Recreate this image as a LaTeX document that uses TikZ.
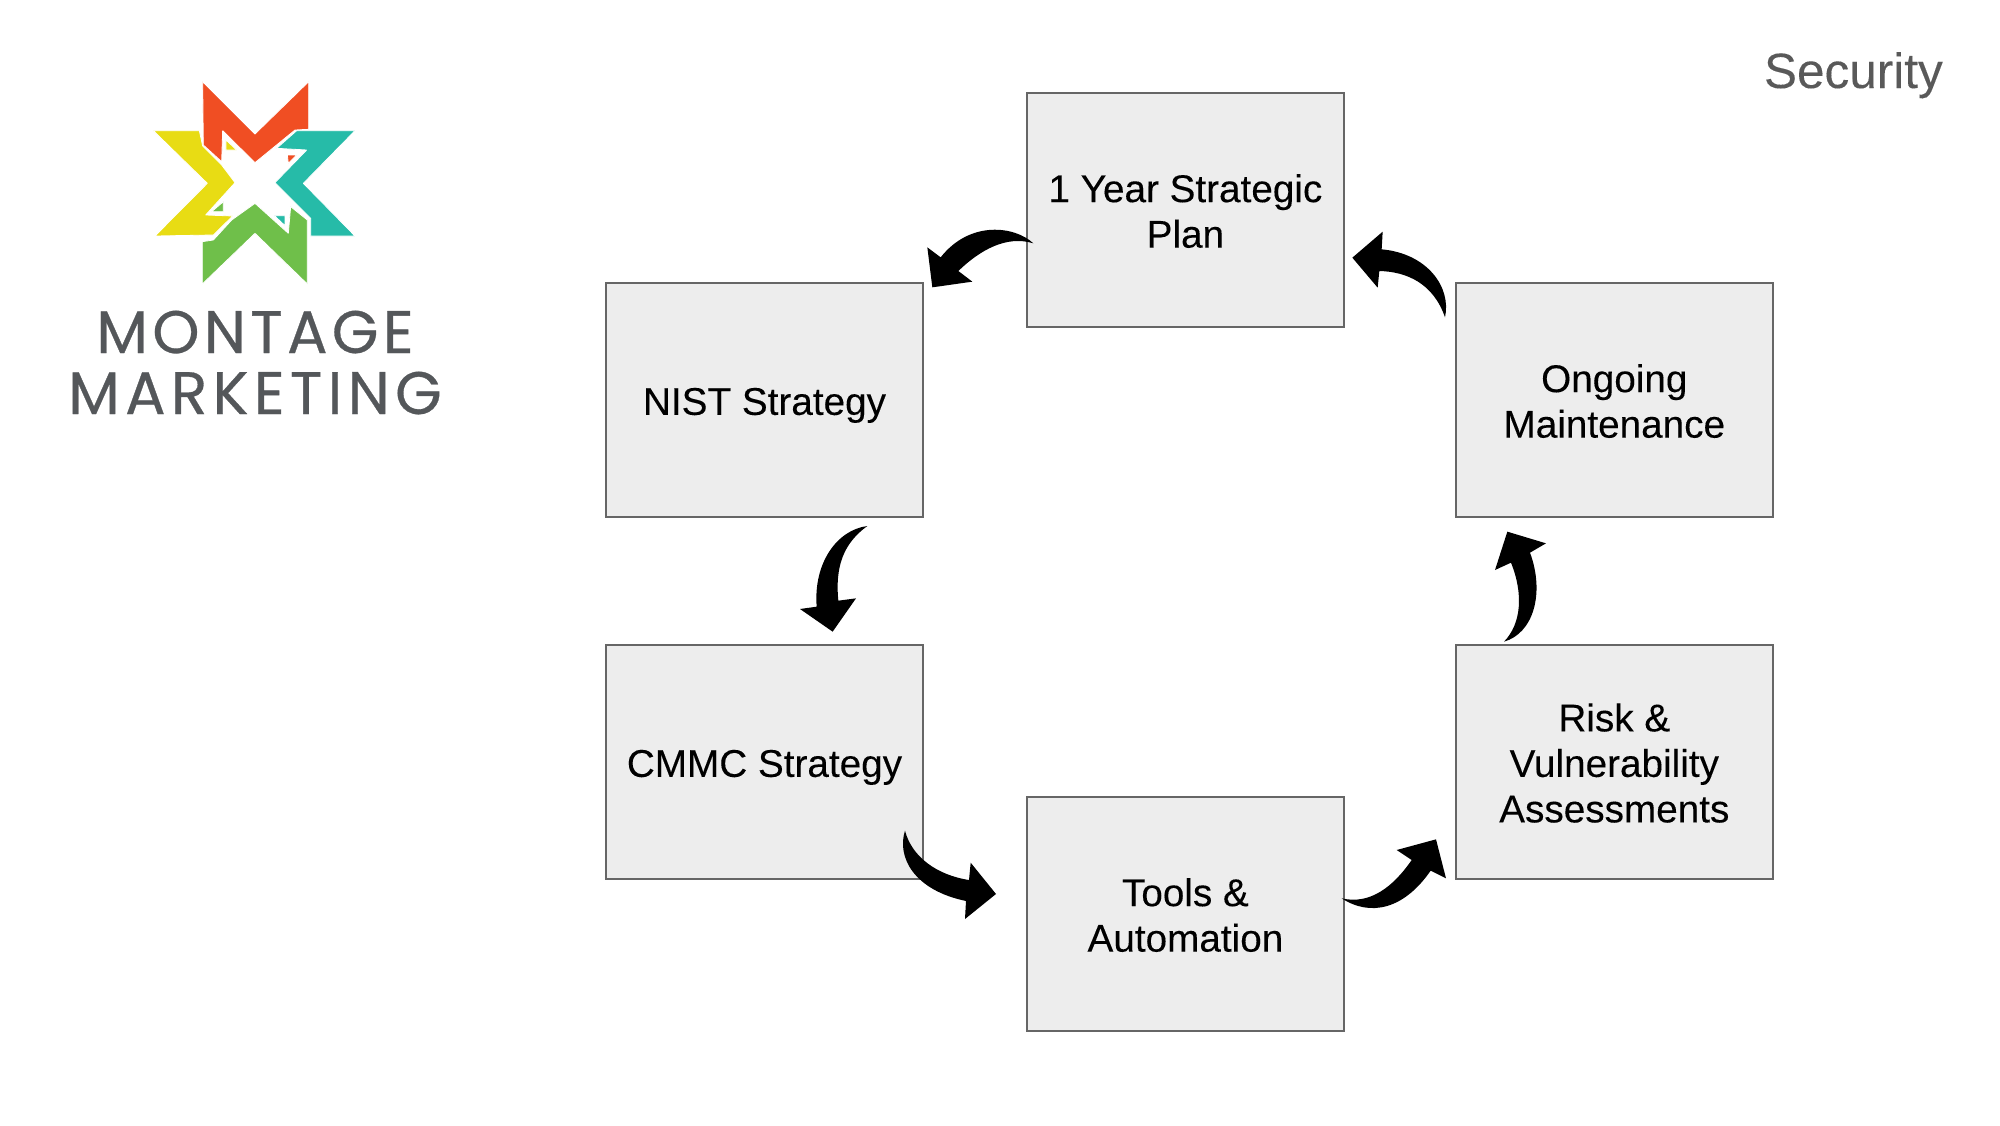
\documentclass[tikz,border=0pt]{standalone}
\usepackage{fontspec}
\setmainfont{Liberation Sans}
\newfontfamily\logofont{Poppins}
\definecolor{boxfill}{HTML}{EDEDED}
\definecolor{boxline}{HTML}{666666}
\definecolor{titlegray}{HTML}{595959}
\definecolor{logogray}{HTML}{54575A}
\definecolor{logored}{HTML}{F04E23}
\definecolor{logoyellow}{HTML}{E8DC14}
\definecolor{logoteal}{HTML}{26BBA8}
\definecolor{logogreen}{HTML}{6FBF4A}
\newcommand\boxlines[1]{\raisebox{-12pt}[0pt][0pt]{\begin{tabular}[c]{@{}c@{}}#1\end{tabular}}}
\tikzset{
  stepbox/.style={draw=boxline,fill=boxfill,line width=2pt,rectangle,
    minimum width=317pt,minimum height=233.5pt,inner sep=0pt,
    font=\fontsize{38.7}{45.5}\selectfont\addfontfeatures{FakeBold=0.15},text=black},
  blockarrow/.style={fill=black,draw=none},
  logopart/.style={draw=white,line width=.8pt,line join=bevel},
  logotext/.style={anchor=base,inner sep=0pt,text=logogray,font={\logofont\fontsize{60}{60}\selectfont}},
  zoomA/.style={x=.33333pt,y=-.33333pt}
}
\begin{document}
\begin{tikzpicture}[x=1pt,y=-1pt]
\useasboundingbox (0,0) rectangle (2000,1125);
% logo
\begin{scope}[shift={(40,60)},zoomA]
\path[logopart,fill=logoyellow] (340,212) -- (478,212) -- (488,258) -- (545,315) -- (585,368) -- (497,465) -- (578,468) -- (520,525) -- (345,528) -- (502,370) -- cycle;
\path[logopart,fill=logoyellow] (558,240) -- (590,270) -- (558,270) -- cycle;
\path[logopart,fill=logoteal] (945,212) -- (770,212) -- (710,265) -- (800,270) -- (705,368) -- (812,475) -- (812,528) -- (945,528) -- (790,370) -- cycle;
\path[logopart,fill=logoteal] (703,467) -- (735,467) -- (735,497) -- cycle;
\path[logopart,fill=logored] (488,65) -- (645,222) -- (806,65) -- (806,208) -- (765,210) -- (645,308) -- (548,212) -- (545,305) -- (490,255) -- cycle;
\path[logopart,fill=logored] (742,285) -- (770,285) -- (745,310) -- cycle;
\path[logopart,fill=logogreen] (487,672) -- (645,520) -- (802,672) -- (802,480) -- (752,440) -- (745,520) -- (645,430) -- (575,480) -- (520,540) -- (487,545) -- cycle;
\path[logopart,fill=logogreen] (515,455) -- (550,425) -- (550,455) -- cycle;
\end{scope}
\node[logotext] (montage) at (255,353) {\addfontfeatures{LetterSpace=7.2,FakeBold=0.5}MONTAGE};
\node[logotext] (marketing) at (255,414) {\addfontfeatures{LetterSpace=8.8,FakeBold=0.5}MARKETING};
% title
\node[anchor=base east,inner sep=0pt,text=titlegray,font=\fontsize{49.5}{50}\selectfont\addfontfeatures{FakeBold=0.15}] (title) at (1943,88) {Security};
% boxes
\node[stepbox] (plan) at (1185.4,210) {\boxlines{1 Year Strategic\\Plan}};
\node[stepbox] (nist) at (764.5,400) {\boxlines{NIST Strategy}};
\node[stepbox] (cmmc) at (764.5,762) {\boxlines{CMMC Strategy}};
\node[stepbox] (tools) at (1185.4,914) {\boxlines{Tools \&\\Automation}};
\node[stepbox] (risk) at (1614.3,762) {\boxlines{Risk \&\\Vulnerability\\Assessments}};
\node[stepbox] (ongoing) at (1614.3,400) {\boxlines{Ongoing\\Maintenance}};
% block arrows
\begin{scope}[shift={(900,200)},zoomA]
\coordinate (planTail) at (400,130); \coordinate (nistTip) at (97,262);
\fill[blockarrow] (planTail) .. controls (345,78) and (210,60) .. (122,172) -- (82,142) -- (nistTip) -- (217,245) -- (175,213) .. controls (240,150) and (320,105) .. (planTail) -- cycle;
\end{scope}
\begin{scope}[shift={(780,510)},zoomA]
\coordinate (nistTail) at (262,48); \coordinate (cmmcTip) at (158,365);
\fill[blockarrow] (nistTail) .. controls (170,60) and (100,160) .. (110,290) -- (60,297) -- (cmmcTip) -- (228,265) -- (175,272) .. controls (165,170) and (190,100) .. (nistTail) -- cycle;
\end{scope}
\begin{scope}[shift={(880,800)},zoomA]
\coordinate (cmmcTail) at (75,92); \coordinate (toolsTip) at (348,282);
\fill[blockarrow] (cmmcTail) .. controls (50,170) and (100,270) .. (258,303) -- (255,357) -- (toolsTip) -- (272,188) -- (267,240) .. controls (170,225) and (95,170) .. (cmmcTail) -- cycle;
\end{scope}
\begin{scope}[shift={(1340,830)},zoomA]
\coordinate (toolsTail) at (5,205); \coordinate (riskTip) at (288,28);
\fill[blockarrow] (toolsTail) .. controls (90,260) and (190,240) .. (272,122) -- (318,145) -- (riskTip) -- (170,60) -- (215,90) .. controls (160,170) and (90,225) .. (toolsTail) -- cycle;
\end{scope}
\begin{scope}[shift={(1490,520)},zoomA]
\coordinate (riskTail) at (42,365); \coordinate (ongoingTip) at (52,35);
\fill[blockarrow] (riskTail) .. controls (130,340) and (165,220) .. (120,98) -- (168,70) -- (ongoingTip) -- (15,150) -- (63,128) .. controls (100,220) and (95,310) .. (riskTail) -- cycle;
\end{scope}
\begin{scope}[shift={(1340,220)},zoomA]
\coordinate (ongoingTail) at (315,292); \coordinate (planTip) at (37,113);
\fill[blockarrow] (ongoingTail) .. controls (335,200) and (260,100) .. (125,88) -- (128,35) -- (planTip) -- (113,203) -- (118,153) .. controls (200,155) and (280,190) .. (ongoingTail) -- cycle;
\end{scope}
\end{tikzpicture}
\end{document}
